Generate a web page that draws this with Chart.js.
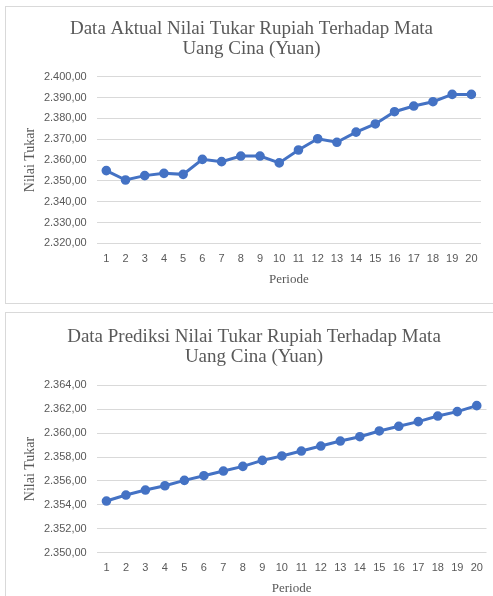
<!DOCTYPE html>
<html lang="id">
<head>
<meta charset="utf-8">
<title>Nilai Tukar Rupiah - Yuan</title>
<script src="https://cdn.jsdelivr.net/npm/chart.js@4/dist/chart.umd.min.js"></script>
<style>
    body {
        margin: 0;
        width: 493px;
        height: 596px;
        overflow: hidden;
        position: relative;
        background: #fff;
    }

    .kotak {
        position: absolute;
        left: 5px;
        width: 490px;
        border: 1px solid #d9d9d9;
        background: #fff;
    }

    #kotak-aktual {
        top: 6px;
        height: 296px;
    }

    #kotak-prediksi {
        top: 312px;
        height: 292px;
    }

    canvas {
        display: block;
    }
</style>
</head>
<body>
<div class="kotak" id="kotak-aktual"><canvas id="grafica-aktual" width="487" height="296"></canvas></div>
<div class="kotak" id="kotak-prediksi"><canvas id="grafica-prediksi" width="487" height="283"></canvas></div>

<script>
const periode = ["1", "2", "3", "4", "5", "6", "7", "8", "9", "10", "11", "12", "13", "14", "15", "16", "17", "18", "19", "20"];

const nilaiAktual = [2354.9, 2350.4, 2352.5, 2353.6, 2353.1, 2360.3, 2359.2, 2361.9, 2361.9, 2358.6,
    2364.8, 2370.2, 2368.5, 2373.4, 2377.3, 2383.2, 2385.9, 2388.0, 2391.5, 2391.5];

const nilaiPrediksi = [2354.32, 2354.82, 2355.24, 2355.60, 2356.05, 2356.44, 2356.83, 2357.22, 2357.72, 2358.09,
    2358.50, 2358.92, 2359.34, 2359.70, 2360.18, 2360.57, 2360.96, 2361.43, 2361.80, 2362.30];

// rango del eje Y: [min, max, paso]
const ejeAktual = [2320, 2400, 10];
const ejePrediksi = [2350, 2364, 2];

const judulAktual = ["Data Aktual Nilai Tukar Rupiah Terhadap Mata", "Uang Cina (Yuan)"];
const judulPrediksi = ["Data Prediksi Nilai Tukar Rupiah Terhadap Mata", "Uang Cina (Yuan)"];

const GRIS_TEXTO = "#595959";
const GRIS_REJILLA = "#d9d9d9";
const AZUL = "#4472C4";

// 2400 -> "2.400,00"
function formatNilai(valor) {
    const [entero, decimales] = valor.toFixed(2).split(".");
    return entero.replace(/\B(?=(\d{3})+(?!\d))/g, ".") + "," + decimales;
}

function crearGrafica(id, titulo, datos, eje, medidas) {
    const [min, max, paso] = eje;

    return new Chart(document.getElementById(id), {
        type: "line",
        data: {
            labels: periode,
            datasets: [
                {
                    data: datos,
                    borderColor: AZUL,
                    backgroundColor: AZUL,
                    borderWidth: 3,
                    pointRadius: 3.3,
                    pointHoverRadius: 3.3,
                    tension: 0
                }
            ]
        },
        options: {
            responsive: false,
            animation: false,
            layout: {
                padding: { left: medidas.izquierda, right: 0, top: 0, bottom: 0 }
            },
            plugins: {
                legend: { display: false },
                tooltip: { enabled: false },
                title: {
                    display: true,
                    text: titulo,
                    color: GRIS_TEXTO,
                    font: { family: "Liberation Serif", size: 19, weight: "normal", lineHeight: 1.05 },
                    padding: { top: medidas.tituloArriba, bottom: medidas.tituloAbajo }
                }
            },
            scales: {
                x: {
                    offset: true,
                    grid: { display: false, drawTicks: false },
                    border: { display: false },
                    ticks: {
                        color: GRIS_TEXTO,
                        font: { family: "Liberation Sans", size: 11 },
                        padding: medidas.etiquetaX,
                        maxRotation: 0,
                        autoSkip: false
                    },
                    title: {
                        display: true,
                        text: "Periode",
                        color: GRIS_TEXTO,
                        font: { family: "Liberation Serif", size: 13 },
                        padding: { top: 0, bottom: medidas.periodeAbajo }
                    },
                    afterFit: (escala) => { escala.height = medidas.altoX; }
                },
                y: {
                    min: min,
                    max: max,
                    grid: { color: GRIS_REJILLA, lineWidth: 1, drawTicks: false },
                    border: { display: false },
                    ticks: {
                        stepSize: paso,
                        color: GRIS_TEXTO,
                        font: { family: "Liberation Sans", size: 11 },
                        padding: 10,
                        callback: (valor) => formatNilai(valor)
                    },
                    title: {
                        display: true,
                        text: "Nilai Tukar",
                        color: GRIS_TEXTO,
                        font: { family: "Liberation Serif", size: 14 },
                        padding: { top: 15.6 - medidas.izquierda, bottom: 0 }
                    },
                    afterFit: (escala) => { escala.width = 90.7 - medidas.izquierda; }
                },
                // eje vacío a la derecha: sólo deja margen al área de trazado
                margenDerecho: {
                    position: "right",
                    grid: { display: false, drawTicks: false },
                    border: { display: false },
                    ticks: { display: false },
                    afterFit: (escala) => { escala.width = medidas.derecha; }
                }
            }
        }
    });
}

crearGrafica("grafica-aktual", judulAktual, nilaiAktual, ejeAktual, {
    izquierda: 4,
    derecha: 12,
    tituloArriba: 12,
    tituloAbajo: 17.8,
    altoX: 59.7,
    etiquetaX: 9,
    periodeAbajo: 16
});

crearGrafica("grafica-prediksi", judulPrediksi, nilaiPrediksi, ejePrediksi, {
    izquierda: 9,
    derecha: 6.5,
    tituloArriba: 14,
    tituloAbajo: 18.4,
    altoX: 43.3,
    etiquetaX: 8.7,
    periodeAbajo: 0
});
</script>
</body>
</html>
